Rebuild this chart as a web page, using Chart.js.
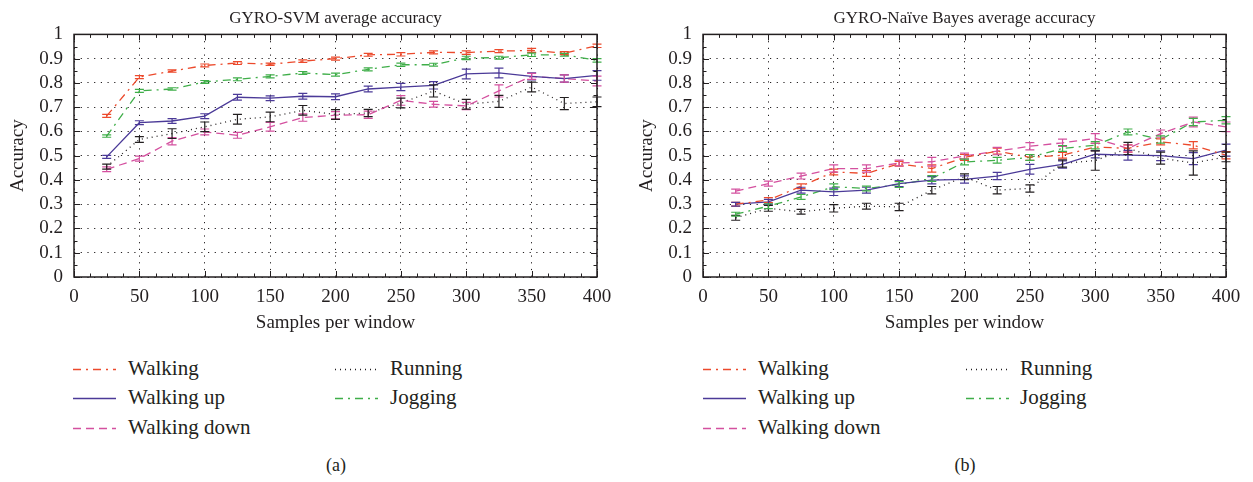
<!DOCTYPE html>
<html>
<head>
<meta charset="utf-8">
<script src="https://cdn.jsdelivr.net/npm/chart.js@4/dist/chart.umd.min.js"></script>
<style>
  body { margin: 0; background: #fff; font-family: "Liberation Serif", serif; color: #231f20; }
  #wrap { position: relative; width: 1253px; height: 482px; }
  .panel { position: absolute; top: 0; height: 340px; }
  .leg { position: absolute; font-size: 21px; line-height: 20px; white-space: nowrap; }
  .leg svg { position: absolute; top: 0; }
  .cap { position: absolute; top: 455px; font-size: 18px; width: 40px; text-align: center; }
</style>
</head>
<body>
<div id="wrap">
  <div class="panel" style="left:0;width:626px"><canvas id="svmChart"></canvas></div>
  <div class="panel" style="left:629px;width:624px"><canvas id="nbChart"></canvas></div>
  <div id="legendA"></div>
  <div id="legendB"></div>
  <div class="cap" style="left:316px">(a)</div>
  <div class="cap" style="left:945px">(b)</div>
</div>
<script>
var samples = [25, 50, 75, 100, 125, 150, 175, 200, 225, 250, 275, 300, 325, 350, 375, 400];
var seriesNames = ["Walking", "Walking up", "Walking down", "Running", "Jogging"];

// GYRO-SVM
var svmWalking     = [0.664, 0.824, 0.849, 0.872, 0.882, 0.877, 0.890, 0.900, 0.916, 0.918, 0.926, 0.925, 0.931, 0.934, 0.923, 0.953];
var svmWalkingErr  = [0.006, 0.006, 0.005, 0.006, 0.006, 0.005, 0.005, 0.006, 0.006, 0.007, 0.006, 0.007, 0.006, 0.008, 0.006, 0.007];
var svmUp          = [0.495, 0.636, 0.643, 0.663, 0.741, 0.737, 0.745, 0.743, 0.775, 0.783, 0.790, 0.837, 0.841, 0.827, 0.818, 0.831];
var svmUpErr       = [0.006, 0.008, 0.010, 0.010, 0.012, 0.010, 0.012, 0.012, 0.012, 0.015, 0.015, 0.020, 0.020, 0.015, 0.015, 0.020];
var svmDown        = [0.444, 0.488, 0.560, 0.598, 0.584, 0.619, 0.657, 0.667, 0.669, 0.728, 0.712, 0.705, 0.767, 0.827, 0.818, 0.808];
var svmDownErr     = [0.010, 0.010, 0.015, 0.012, 0.012, 0.018, 0.015, 0.015, 0.015, 0.020, 0.012, 0.015, 0.025, 0.012, 0.015, 0.020];
var svmRunning     = [0.455, 0.567, 0.591, 0.619, 0.650, 0.660, 0.687, 0.670, 0.676, 0.717, 0.767, 0.712, 0.724, 0.783, 0.715, 0.722];
var svmRunningErr  = [0.010, 0.012, 0.020, 0.020, 0.020, 0.020, 0.020, 0.020, 0.015, 0.020, 0.025, 0.020, 0.025, 0.020, 0.025, 0.020];
var svmJogging     = [0.581, 0.767, 0.775, 0.804, 0.815, 0.827, 0.841, 0.834, 0.856, 0.875, 0.875, 0.903, 0.904, 0.916, 0.916, 0.893];
var svmJoggingErr  = [0.005, 0.006, 0.005, 0.006, 0.006, 0.006, 0.006, 0.006, 0.006, 0.007, 0.006, 0.007, 0.006, 0.007, 0.006, 0.007];

// GYRO-Naive Bayes
var nbWalking      = [0.300, 0.317, 0.374, 0.433, 0.427, 0.467, 0.447, 0.493, 0.519, 0.493, 0.502, 0.536, 0.530, 0.557, 0.543, 0.502];
var nbWalkingErr   = [0.008, 0.010, 0.010, 0.012, 0.012, 0.010, 0.015, 0.012, 0.012, 0.012, 0.012, 0.015, 0.015, 0.012, 0.015, 0.015];
var nbUp           = [0.300, 0.310, 0.358, 0.351, 0.358, 0.385, 0.399, 0.402, 0.416, 0.444, 0.464, 0.506, 0.502, 0.500, 0.488, 0.523];
var nbUpErr        = [0.008, 0.010, 0.012, 0.015, 0.012, 0.012, 0.015, 0.015, 0.015, 0.020, 0.015, 0.015, 0.020, 0.020, 0.025, 0.025];
var nbDown         = [0.354, 0.385, 0.416, 0.447, 0.447, 0.470, 0.475, 0.499, 0.519, 0.539, 0.553, 0.571, 0.530, 0.591, 0.639, 0.619];
var nbDownErr      = [0.008, 0.010, 0.012, 0.015, 0.015, 0.012, 0.018, 0.012, 0.015, 0.015, 0.015, 0.020, 0.015, 0.015, 0.020, 0.020];
var nbRunning      = [0.244, 0.283, 0.269, 0.283, 0.292, 0.289, 0.358, 0.413, 0.358, 0.365, 0.468, 0.480, 0.530, 0.490, 0.470, 0.495];
var nbRunningErr   = [0.010, 0.012, 0.010, 0.015, 0.012, 0.015, 0.015, 0.012, 0.015, 0.015, 0.015, 0.040, 0.025, 0.025, 0.050, 0.020];
var nbJogging      = [0.259, 0.292, 0.330, 0.372, 0.365, 0.381, 0.406, 0.474, 0.481, 0.493, 0.530, 0.543, 0.598, 0.567, 0.639, 0.646];
var nbJoggingErr   = [0.008, 0.010, 0.010, 0.012, 0.010, 0.012, 0.012, 0.012, 0.012, 0.012, 0.012, 0.015, 0.012, 0.015, 0.015, 0.015];

var colors = ["#ec4a2c", "#4b3a98", "#d4509f", "#231f20", "#3fae49"];
var dashes = [[8, 5, 2, 5], [], [8, 5], [1, 4], [8, 5, 2, 5]];
var widths = [1.3, 1.3, 1.3, 1.3, 1.3];

Chart.defaults.font.family = "'Liberation Serif', serif";
Chart.defaults.color = "#231f20";

function pts(vals) {
    return samples.map(function (s, i) { return { x: s, y: vals[i] }; });
}

// error bars, drawn through the chart's own scales
var errorBars = {
    id: 'errorBars',
    afterDatasetsDraw: function (chart) {
        var ctx = chart.ctx, ys = chart.scales.y;
        chart.data.datasets.forEach(function (ds, di) {
            var meta = chart.getDatasetMeta(di);
            ctx.save();
            ctx.strokeStyle = ds.borderColor;
            ctx.lineWidth = 1.2;
            meta.data.forEach(function (pt, i) {
                var v = ds.data[i].y, e = ds.errors[i];
                var y1 = ys.getPixelForValue(v - e), y2 = ys.getPixelForValue(v + e);
                ctx.beginPath();
                ctx.moveTo(pt.x, y1); ctx.lineTo(pt.x, y2);
                ctx.moveTo(pt.x - 4.5, y1); ctx.lineTo(pt.x + 4.5, y1);
                ctx.moveTo(pt.x - 4.5, y2); ctx.lineTo(pt.x + 4.5, y2);
                ctx.stroke();
            });
            ctx.restore();
        });
    }
};

// box with inward ticks on all four sides
var frameTicks = {
    id: 'frameTicks',
    afterDraw: function (chart) {
        var ctx = chart.ctx, a = chart.chartArea, xs = chart.scales.x, ys = chart.scales.y;
        ctx.save();
        ctx.strokeStyle = "#231f20";
        ctx.lineWidth = 1.5;
        ctx.strokeRect(a.left, a.top, a.right - a.left, a.bottom - a.top);
        ctx.lineWidth = 1;
        ctx.beginPath();
        for (var v = 0; v <= 400; v += 12.5) {
            var len = (v % 50 === 0) ? 6 : 3.5;
            var x = Math.round(xs.getPixelForValue(v)) + 0.5;
            ctx.moveTo(x, a.bottom); ctx.lineTo(x, a.bottom - len);
            ctx.moveTo(x, a.top); ctx.lineTo(x, a.top + len);
        }
        for (var k = 0; k <= 20; k++) {
            var l2 = (k % 2 === 0) ? 6 : 3.5;
            var y = Math.round(ys.getPixelForValue(k * 0.05)) + 0.5;
            ctx.moveTo(a.left, y); ctx.lineTo(a.left + l2, y);
            ctx.moveTo(a.right, y); ctx.lineTo(a.right - l2, y);
        }
        ctx.stroke();
        ctx.restore();
    }
};

function makeChart(id, title, series, errs, rightPad) {
    var datasets = series.map(function (vals, i) {
        return {
            label: seriesNames[i],
            data: pts(vals),
            errors: errs[i],
            borderColor: colors[i],
            borderWidth: widths[i],
            borderDash: dashes[i],
            pointRadius: 0,
            fill: false,
            tension: 0
        };
    });
    return new Chart(document.getElementById(id), {
        type: 'line',
        data: { datasets: datasets },
        options: {
            responsive: true,
            maintainAspectRatio: false,
            animation: false,
            layout: { padding: { left: 0, right: rightPad, top: 0, bottom: 0 } },
            plugins: {
                legend: { display: false },
                tooltip: { enabled: false },
                title: {
                    display: true,
                    fullSize: false,
                    text: title,
                    font: { size: 17, weight: 'normal' },
                    padding: { top: 8, bottom: 6 }
                }
            },
            scales: {
                x: {
                    type: 'linear', min: 0, max: 400,
                    afterFit: function (s) { s.height = 63; },
                    ticks: { stepSize: 50, font: { size: 19 }, padding: 9, maxRotation: 0, autoSkip: false },
                    grid: { color: "#231f20", lineWidth: 1, drawTicks: false },
                    border: { display: false, dash: [1.2, 5.5] },
                    title: { display: true, text: 'Samples per window', font: { size: 19 }, padding: { top: 0, bottom: 6 } }
                },
                y: {
                    min: 0, max: 1,
                    afterFit: function (s) { s.width = 74; },
                    ticks: {
                        stepSize: 0.1, font: { size: 19 }, padding: 11, autoSkip: false,
                        callback: function (v) { return String(+v.toFixed(1)); }
                    },
                    grid: { color: "#231f20", lineWidth: 1, drawTicks: false },
                    border: { display: false, dash: [1.2, 5.5] },
                    title: { display: true, text: 'Accuracy', font: { size: 19 }, padding: { top: 7, bottom: 0 } }
                }
            }
        },
        plugins: [errorBars, frameTicks]
    });
}

makeChart('svmChart', 'GYRO-SVM average accuracy',
    [svmWalking, svmUp, svmDown, svmRunning, svmJogging],
    [svmWalkingErr, svmUpErr, svmDownErr, svmRunningErr, svmJoggingErr], 29);
makeChart('nbChart', 'GYRO-Na\u00efve Bayes average accuracy',
    [nbWalking, nbUp, nbDown, nbRunning, nbJogging],
    [nbWalkingErr, nbUpErr, nbDownErr, nbRunningErr, nbJoggingErr], 27);

// legends: three rows in the first column, two in the second
function buildLegend(el, lineX, textX, col2LineX, col2TextX) {
    var rows = [358, 387, 417];
    var html = '';
    seriesNames.forEach(function (name, i) {
        var col = i < 3 ? 0 : 1;
        var top = rows[col === 0 ? i : i - 3];
        var lx = col === 0 ? lineX : col2LineX;
        var tx = col === 0 ? textX : col2TextX;
        var dash = dashes[i].length ? ' stroke-dasharray="' + dashes[i].join(' ') + '"' : '';
        html += '<div class="leg" style="left:' + lx + 'px;top:' + top + 'px">' +
            '<svg width="44" height="22" style="left:0"><line x1="0" y1="11.5" x2="43" y2="11.5" stroke="' +
            colors[i] + '" stroke-width="1.6"' + dash + '/></svg>' +
            '<span style="position:absolute;left:' + (tx - lx) + 'px;top:0">' + name + '</span></div>';
    });
    el.innerHTML = html;
}
buildLegend(document.getElementById('legendA'), 73, 128, 335, 390);
buildLegend(document.getElementById('legendB'), 703, 758, 966, 1020);
</script>
</body>
</html>
